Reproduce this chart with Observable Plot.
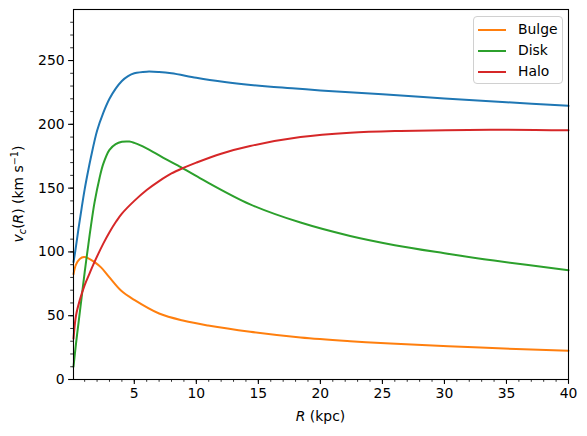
<!DOCTYPE html>
<html>
<head>
<meta charset="utf-8">
<script src="https://cdn.jsdelivr.net/npm/d3@7"></script>
<script src="https://cdn.jsdelivr.net/npm/@observablehq/plot@0.6"></script>
<style>
  body { margin: 0; background: #fff; }
  #chart { position: relative; width: 587px; height: 436px; font-family: "DejaVu Sans", sans-serif; }
  .legend { position: absolute; left: 473px; top: 16px; width: 88px; height: 66px;
    border: 1px solid #d0d0d0; border-radius: 4px; background: rgba(255,255,255,0.8); font-size: 13.9px; }
  .legend div { position: absolute; left: 4px; height: 14px; line-height: 14px; white-space: nowrap; }
  .legend span.sw { display: inline-block; width: 28px; height: 0; border-top: 2px solid; vertical-align: middle; margin-right: 12px; }
</style>
</head>
<body>
<div id="chart"></div>
<script>
// lectura aproximada de la figura (R en kpc, v en km/s)
const totalR = [0.1, 0.25, 0.5, 0.75, 1.0, 1.25, 1.5, 2.0, 2.5, 3.0, 3.5, 4.0, 4.5, 5.0, 6.0, 7.0, 8.0, 10, 12, 14, 16, 18, 20, 22, 25, 30, 35, 40]
const totalV = [92, 101, 118, 134, 149, 162, 174, 195, 209, 220, 228, 234, 237.8, 240, 241.3, 241, 240, 236.5, 233.5, 231.2, 229.4, 228, 226.6, 225.4, 223.6, 220.3, 217.3, 214.5]

const bulgeR = [0.1, 0.3, 0.6, 0.95, 1.3, 1.8, 2.34, 3.0, 3.95, 5, 7, 9, 10.95, 14.34, 18.4, 22.4, 25.65, 32.9, 40]
const bulgeV = [82.5, 90, 94.5, 96, 95, 92, 87.7, 80, 69.5, 62.4, 51.7, 46, 42.3, 37.4, 32.9, 30, 28.2, 25, 22.5]

const diskR = [0.1, 0.3, 0.5, 0.75, 1.0, 1.3, 1.5, 1.8, 2.2, 2.5, 3.0, 3.5, 4.0, 4.6, 5.0, 5.5, 6.5, 7.5, 8.5, 10.32, 14.34, 18.4, 22.4, 26, 30, 34, 40]
const diskV = [10, 28, 44, 64, 84, 106, 120, 139, 158, 169, 180, 184.5, 186.3, 186.5, 185.5, 183.5, 178.5, 173, 167.8, 157.7, 137.3, 123, 112.5, 105.3, 99, 93.2, 85.7]

const haloR = [0.1, 0.3, 0.6, 1.0, 1.43, 1.67, 2.5, 3.0, 3.55, 4, 5, 6, 7, 8, 9, 10, 12, 14.34, 18.4, 22.4, 26.45, 33.7, 40]
const haloV = [32, 50, 62, 74, 84, 89.5, 106.5, 115.5, 124, 130, 140, 148.5, 155.5, 161.5, 166, 170, 177, 183, 190, 193.4, 194.8, 195.8, 195.3]

const names = ["Bulge", "Disk", "Halo"]
const colores = ["#ff7f0e", "#2ca02c", "#d62728"]

const xTicks = [5, 10, 15, 20, 25, 30, 35, 40]
const yTicks = [0, 50, 100, 150, 200, 250]

const serie = (R, V) => R.map((r, i) => ({r: r, v: V[i]}))

const W = 587, H = 436
const chart = Plot.plot({
  width: W,
  height: H,
  marginTop: 9,
  marginRight: 19,
  marginBottom: 57,
  marginLeft: 73,
  style: {fontFamily: "DejaVu Sans", fontSize: "13.9px", color: "black", background: "white"},
  x: {domain: [0.1, 40]},
  y: {domain: [0, 290]},
  marks: [
    Plot.line(serie(totalR, totalV), {x: "r", y: "v", stroke: "#1f77b4", strokeWidth: 2, curve: "catmull-rom"}),
    Plot.line(serie(bulgeR, bulgeV), {x: "r", y: "v", stroke: colores[0], strokeWidth: 2, curve: "catmull-rom"}),
    Plot.line(serie(diskR, diskV), {x: "r", y: "v", stroke: colores[1], strokeWidth: 2, curve: "catmull-rom"}),
    Plot.line(serie(haloR, haloV), {x: "r", y: "v", stroke: colores[2], strokeWidth: 2, curve: "catmull-rom"}),
    // ticks menores
    Plot.axisX(d3.range(1, 41), {tickSize: 2.8, tickFormat: () => "", label: null, strokeWidth: 0.8}),
    Plot.axisY(d3.range(0, 290, 10), {tickSize: 2.8, tickFormat: () => "", label: null, strokeWidth: 0.8}),
    // ticks mayores
    Plot.axisX(xTicks, {tickSize: 4.9, tickPadding: 4, label: null, strokeWidth: 1.1, fontSize: 13.9}),
    Plot.axisY(yTicks, {tickSize: 4.9, tickPadding: 4, label: null, strokeWidth: 1.1, fontSize: 13.9}),
    Plot.frame({stroke: "black", strokeWidth: 1.1})
  ]
})

const svg = d3.select(chart)
// etiqueta eje x
const xl = svg.append("text")
  .attr("x", (73 + 568) / 2).attr("y", 421)
  .attr("text-anchor", "middle").attr("font-size", 13.9).attr("fill", "black")
xl.append("tspan").attr("font-style", "italic").text("R")
xl.append("tspan").text(" (kpc)")

// etiqueta eje y
const yl = svg.append("text")
  .attr("transform", "translate(23,194) rotate(-90)")
  .attr("text-anchor", "middle").attr("font-size", 13.9).attr("fill", "black")
yl.append("tspan").attr("font-style", "italic").text("v")
yl.append("tspan").attr("font-size", 9.7).attr("dy", 3).attr("font-style", "italic").text("c")
yl.append("tspan").attr("dy", -3).text("(")
yl.append("tspan").attr("font-style", "italic").text("R")
yl.append("tspan").text(") (km s")
yl.append("tspan").attr("font-size", 9.7).attr("dy", -5).text("−1")
yl.append("tspan").attr("dy", 5).text(")")

const cont = d3.select("#chart")
cont.append(() => chart)

const leg = cont.append("div").attr("class", "legend")
names.forEach((n, i) => {
  const row = leg.append("div").style("top", (5 + i * 21) + "px")
  row.append("span").attr("class", "sw").style("border-color", colores[i])
  row.append("span").text(n)
})
</script>
</body>
</html>
